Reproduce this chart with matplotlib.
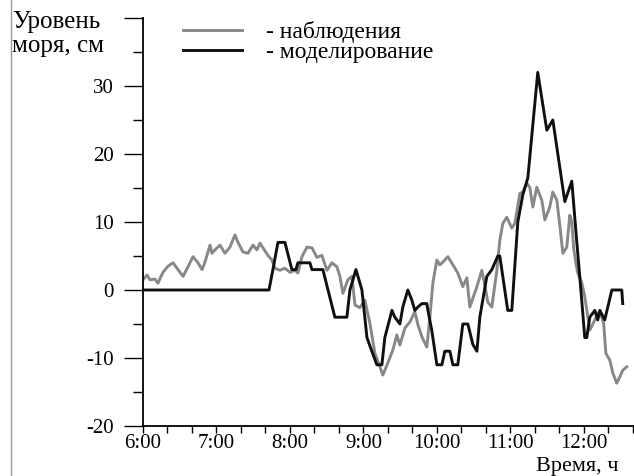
import matplotlib
matplotlib.use("Agg")
import matplotlib.pyplot as plt
from matplotlib.lines import Line2D

plt.rcParams['font.family'] = ['Liberation Serif', 'DejaVu Serif']

# время в минутах от 6:00 и уровень моря, см (наблюдения)
obs_min = [0, 3.3, 5.7, 9.8, 12.2, 16.3, 20.4, 24.5, 28.6, 32.7,
           36.7, 40.8, 44.9, 48.2, 50.6, 54.7, 56.3, 58.8, 62.9, 66.9,
           71.0, 75.1, 77.6, 81.6, 85.7, 89.8, 93.1, 95.5, 98.0, 102.0,
           105.3, 107.8, 111.8, 115.9, 120.0, 124.1, 126.5, 129.8, 133.9, 138.0,
           142.0, 146.1, 150.2, 154.3, 158.4, 160.8, 163.3, 167.3, 170.6, 173.1,
           177.1, 181.2, 185.3, 189.4, 193.5, 195.9, 200.0, 204.1, 207.3, 209.8,
           213.9, 218.0, 222.0, 224.5, 227.8, 231.8, 234.3, 236.7, 240.0, 242.4,
           244.9, 249.0, 253.1, 257.1, 261.2, 264.5, 266.9, 272.7, 276.7, 279.2,
           281.6, 284.9, 289.0, 291.4, 293.9, 297.1, 301.2, 303.7, 307.8, 310.2,
           313.5, 315.9, 318.4, 321.6, 325.7, 328.2, 332.2, 334.7, 338.0, 340.4,
           342.9, 346.1, 348.6, 350.2, 351.8, 353.5, 355.1, 358.4, 360.8, 363.3,
           364.9, 369.0, 371.4, 374.7, 376.3, 378.0, 381.2, 383.7, 386.9, 389.4,
           391.8, 395.1]
obs_cm = [1.5, 2.2, 1.5, 1.6, 1.0, 2.6, 3.5, 4.0, 3.0, 2.0,
          3.4, 4.9, 4.0, 3.0, 4.1, 6.6, 5.4, 5.9, 6.6, 5.4,
          6.3, 8.1, 7.0, 5.6, 5.4, 6.6, 5.9, 6.9, 6.2, 5.1,
          4.4, 3.2, 2.9, 3.2, 2.6, 2.9, 2.5, 4.9, 6.3, 6.2,
          4.8, 5.1, 2.9, 4.0, 3.4, 2.0, -0.5, 1.5, 2.0, -2.2,
          -2.6, -1.5, -4.9, -9.3, -11.3, -12.5, -10.7, -8.8, -6.6, -8.1,
          -5.6, -4.7, -3.2, -5.1, -6.9, -8.4, -4.0, 1.0, 4.4, 3.7,
          4.1, 4.9, 3.7, 2.5, 0.5, 1.8, -2.5, 0.5, 2.9, 0.7,
          -1.8, -2.5, 2.9, 7.3, 9.8, 10.7, 9.1, 9.8, 14.2, 14.4,
          15.7, 15.1, 12.2, 15.1, 13.2, 10.3, 12.2, 14.4, 13.2, 9.5,
          5.4, 6.3, 11.0, 10.0, 6.0, 4.0, 2.5, 1.0, -1.0, -4.0,
          -5.9, -4.4, -3.4, -4.0, -5.0, -9.3, -10.3, -12.2, -13.7, -12.8,
          -11.8, -11.3]

# моделирование
mod_min = [0, 102.9, 106.1, 110.2, 115.9, 121.6, 124.9, 126.5, 136.3, 138.0,
           146.9, 156.7, 166.5, 169.0, 173.9, 178.8, 182.9, 186.9, 191.0, 195.1,
           197.5, 203.3, 205.7, 209.8, 212.2, 216.3, 219.6, 222.0, 224.5, 227.8,
           231.8, 232.7, 235.9, 240.0, 244.1, 246.5, 250.6, 253.1, 257.1, 261.2,
           265.3, 269.4, 272.7, 275.1, 280.8, 284.9, 289.8, 291.4, 297.9, 301.2,
           306.1, 310.2, 314.3, 322.4, 329.8, 334.7, 344.5, 350.2, 354.3, 356.7,
           360.8, 362.4, 364.9, 369.0, 371.4, 373.1, 377.1, 382.9, 391.0, 391.8]
mod_cm = [0, 0, 3, 7, 7, 3, 3, 4, 4, 3,
          3, -4, -4, 0, 3, 0, -7, -9, -11, -11,
          -7, -3, -4, -5, -2.5, 0, -1.5, -3, -2.5, -2,
          -2, -3, -6, -11, -11, -9, -9, -11, -11, -5,
          -5, -8, -9, -4, 2, 3, 5, 5, -3, -3,
          10, 14, 16.5, 32, 23.5, 25, 13, 16, 7, 2,
          -7, -7, -4, -3, -4.4, -3, -4.4, 0, 0, -2]

xtick_min = [0, 60, 120, 180, 240, 300, 360]
xtick_labels = ["6:00", "7:00", "8:00", "9:00", "10:00", "11:00", "12:00"]
ytick_major = [-20, -10, 0, 10, 20, 30, 40]
ytick_labels = ["-20", "-10", "0", "10", "20", "30", ""]

W, H = 634, 476
fig = plt.figure(figsize=(W / 100, H / 100), dpi=100)
ax = fig.add_axes([143 / W, 50 / H, (W - 143) / W, 408 / H])

ax.plot(obs_min, obs_cm, color='#888888', lw=2.1, label="- наблюдения")
ax.plot(mod_min, mod_cm, color='#101010', lw=2.1, label="- моделирование")

ax.set_xlim(0, 401)
ax.set_ylim(-20, 40)
for s in ['top', 'right']:
    ax.spines[s].set_visible(False)
for s in ['left', 'bottom']:
    ax.spines[s].set_linewidth(1.3)

ax.set_xticks(xtick_min)
ax.set_xticklabels(xtick_labels)
ax.set_xticks(list(range(0, 401, 20)), minor=True)
ax.set_yticks(ytick_major)
ax.set_yticklabels(ytick_labels)
ax.set_yticks([-15, -5, 5, 15, 25, 35], minor=True)

ax.tick_params(axis='x', which='both', direction='out', length=5, width=1, pad=1,
               labelsize=15)
ax.tick_params(axis='y', which='major', direction='out', length=14, width=1, pad=7,
               labelsize=15)
ax.tick_params(axis='y', which='minor', direction='out', length=7, width=1)

leg = ax.legend(loc='upper left', bbox_to_anchor=(183 / W, 1 - 21 / H),
                bbox_transform=fig.transFigure, frameon=False, fontsize=17,
                handlelength=2.5, handletextpad=1.0, labelspacing=-0.05,
                borderpad=0, borderaxespad=0)
for h in leg.legend_handles:
    h.set_linewidth(2.1)

fig.text(12 / W, 1 - 28 / H, "Уровень", fontsize=18, ha='left', va='baseline')
fig.text(12 / W, 1 - 52 / H, "моря, см", fontsize=18, ha='left', va='baseline')
fig.text(536 / W, 5 / H, "Время, ч", fontsize=16, ha='left', va='baseline')

fig.add_artist(Line2D([11 / W, 11 / W], [0, 1], color='#9a9a9a', lw=1.0,
                      transform=fig.transFigure))

fig.savefig("out.png", dpi=100)
